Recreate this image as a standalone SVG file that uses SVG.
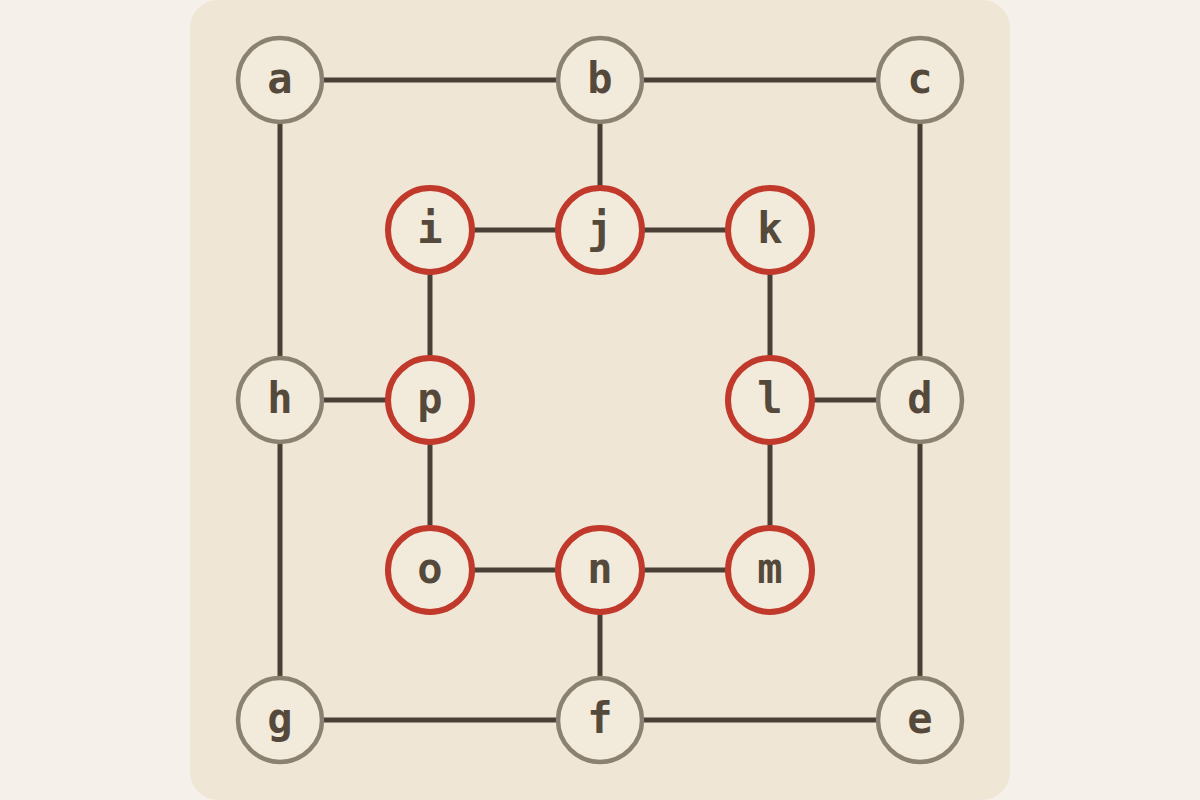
<svg xmlns="http://www.w3.org/2000/svg" width="1200" height="800" viewBox="0 0 1200 800">
<style>
.e{stroke:#4a4136;stroke-width:5;fill:none}
.o circle{fill:#f2eadb;stroke:#8a8170;stroke-width:4.5}
.r circle{fill:#f2eadb;stroke:#c0392b;stroke-width:6}
text{font-family:"DejaVu Sans Mono",monospace;font-weight:bold;font-size:42px;fill:#54493a;text-anchor:middle}
</style>
<rect width="1200" height="800" fill="#f5f1ea"/>
<rect x="190" y="0" width="820" height="800" rx="28" fill="#efe6d6"/>
<g id="connectors" class="e">
<line x1="280" y1="80" x2="920" y2="80"/>
<line x1="280" y1="720" x2="920" y2="720"/>
<line x1="280" y1="80" x2="280" y2="720"/>
<line x1="920" y1="80" x2="920" y2="720"/>
<line x1="600" y1="80" x2="600" y2="230"/>
<line x1="600" y1="570" x2="600" y2="720"/>
<line x1="280" y1="400" x2="430" y2="400"/>
<line x1="770" y1="400" x2="920" y2="400"/>
<line x1="430" y1="230" x2="770" y2="230"/>
<line x1="430" y1="570" x2="770" y2="570"/>
<line x1="430" y1="230" x2="430" y2="570"/>
<line x1="770" y1="230" x2="770" y2="570"/>
</g>
<g id="a" class="o"><circle cx="280" cy="80" r="42"/><text x="280" y="93">a</text></g>
<g id="b" class="o"><circle cx="600" cy="80" r="42"/><text x="600" y="93">b</text></g>
<g id="c" class="o"><circle cx="920" cy="80" r="42"/><text x="920" y="93">c</text></g>
<g id="h" class="o"><circle cx="280" cy="400" r="42"/><text x="280" y="413">h</text></g>
<g id="d" class="o"><circle cx="920" cy="400" r="42"/><text x="920" y="413">d</text></g>
<g id="g" class="o"><circle cx="280" cy="720" r="42"/><text x="280" y="733">g</text></g>
<g id="f" class="o"><circle cx="600" cy="720" r="42"/><text x="600" y="733">f</text></g>
<g id="e" class="o"><circle cx="920" cy="720" r="42"/><text x="920" y="733">e</text></g>
<g id="i" class="r"><circle cx="430" cy="230" r="42"/><text x="430" y="243">i</text></g>
<g id="j" class="r"><circle cx="600" cy="230" r="42"/><text x="600" y="243">j</text></g>
<g id="k" class="r"><circle cx="770" cy="230" r="42"/><text x="770" y="243">k</text></g>
<g id="p" class="r"><circle cx="430" cy="400" r="42"/><text x="430" y="413">p</text></g>
<g id="l" class="r"><circle cx="770" cy="400" r="42"/><text x="770" y="413">l</text></g>
<g id="o" class="r"><circle cx="430" cy="570" r="42"/><text x="430" y="583">o</text></g>
<g id="n" class="r"><circle cx="600" cy="570" r="42"/><text x="600" y="583">n</text></g>
<g id="m" class="r"><circle cx="770" cy="570" r="42"/><text x="770" y="583">m</text></g>
</svg>
